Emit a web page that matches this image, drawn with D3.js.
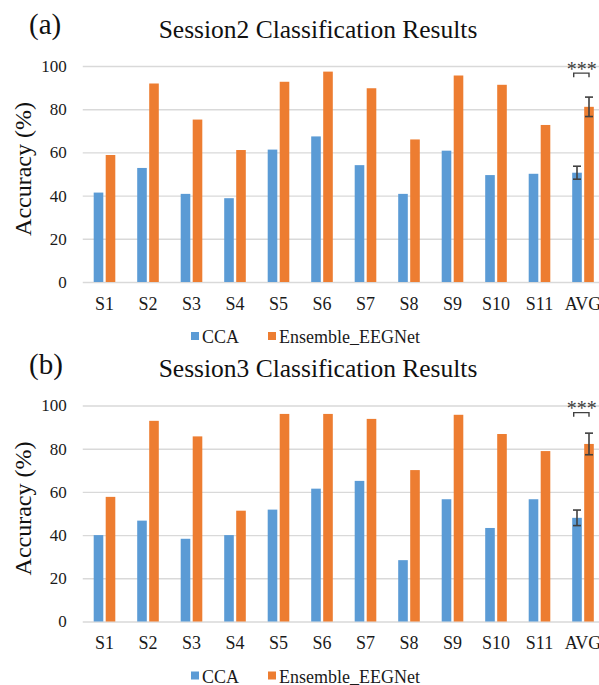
<!DOCTYPE html>
<html>
<head>
<meta charset="utf-8">
<script src="https://cdn.jsdelivr.net/npm/d3@7"></script>
<style>
  body { margin: 0; background: #fff; }
  svg { display: block; font-family: "Liberation Serif", "Times New Roman", serif; }
</style>
</head>
<body>
<svg id="chart" width="599" height="685"></svg>
<script>
const subjects = ["S1", "S2", "S3", "S4", "S5", "S6", "S7", "S8", "S9", "S10", "S11", "AVG"];
const series = ["CCA", "Ensemble_EEGNet"];
const colors = ["#5b9bd5", "#ed7d31"];
const yTicks = [0, 20, 40, 60, 80, 100];

// Session 2
const s2CCA = [41.4, 52.8, 40.8, 38.8, 61.3, 67.4, 54.1, 40.8, 60.8, 49.5, 50.1, 50.6];
const s2Ens = [58.8, 91.9, 75.2, 61.1, 92.7, 97.4, 89.7, 66.0, 95.6, 91.3, 72.7, 81.1];
const s2Err = [3.0, 4.5];

// Session 3
const s3CCA = [40.0, 46.7, 38.3, 40.0, 51.8, 61.5, 65.1, 28.4, 56.6, 43.3, 56.6, 48.0];
const s3Ens = [57.7, 92.9, 85.7, 51.3, 96.1, 96.1, 93.8, 70.1, 95.7, 86.8, 78.9, 82.2];
const s3Err = [3.6, 5.0];

const svg = d3.select("#chart");

const x0 = d3.scaleBand().domain(subjects).range([82.75, 604.75]).padding(0);
const x1 = d3.scaleBand().domain(series).range([0, 21.6]).paddingInner(0.2);
const pairOffset = x0.bandwidth() / 2 - 10.8;

function drawPanel(tag, title, cca, ens, err, dy) {
    const g = svg.append("g").attr("transform", `translate(0, ${dy})`);
    const y = d3.scaleLinear().domain([0, 100]).range([282, 66]);

    // gridlines + y labels
    const yAxis = g.append("g")
        .attr("transform", `translate(${x0.range()[0]}, 0)`)
        .call(d3.axisLeft(y).tickValues(yTicks).tickSize(-(x0.range()[1] - x0.range()[0])).tickPadding(16));
    yAxis.select(".domain").remove();
    yAxis.selectAll("line").attr("stroke", "#d9d9d9").attr("stroke-width", 1.4);
    yAxis.selectAll("text").attr("fill", "#1a1a1a").style("font-size", "17px")
        .style("font-family", "'Liberation Serif', serif");

    // x labels
    const xAxis = g.append("g")
        .attr("transform", `translate(0, ${y(0)})`)
        .call(d3.axisBottom(x0).tickSize(0).tickPadding(15));
    xAxis.select(".domain").remove();
    xAxis.selectAll("text").attr("fill", "#1a1a1a").style("font-size", "18px")
        .style("font-family", "'Liberation Serif', serif");

    // bars
    const rows = subjects.map((s, i) => ({ s, vals: [cca[i], ens[i]] }));
    g.append("g").selectAll("g")
        .data(rows)
        .join("g")
        .attr("transform", d => `translate(${x0(d.s) + pairOffset}, 0)`)
        .selectAll("rect")
        .data(d => d.vals.map((v, k) => ({ k, v })))
        .join("rect")
        .attr("x", d => x1(series[d.k]))
        .attr("y", d => y(d.v))
        .attr("width", x1.bandwidth())
        .attr("height", d => y(0) - y(d.v))
        .attr("fill", d => colors[d.k]);

    // error bars on AVG
    const avg = subjects[subjects.length - 1];
    const avgVals = [cca[cca.length - 1], ens[ens.length - 1]];
    const eg = g.append("g").attr("stroke", "#404040").attr("stroke-width", 1.6).attr("fill", "none");
    avgVals.forEach((v, k) => {
        const cx = x0(avg) + pairOffset + x1(series[k]) + x1.bandwidth() / 2;
        eg.append("line").attr("x1", cx).attr("x2", cx).attr("y1", y(v + err[k])).attr("y2", y(v - err[k]));
        eg.append("line").attr("x1", cx - 4).attr("x2", cx + 4).attr("y1", y(v + err[k])).attr("y2", y(v + err[k]));
        eg.append("line").attr("x1", cx - 4).attr("x2", cx + 4).attr("y1", y(v - err[k])).attr("y2", y(v - err[k]));
    });

    // significance bracket
    const bx1 = x0(avg) + pairOffset + x1(series[0]) + 1.5;
    const bx2 = x0(avg) + pairOffset + x1(series[1]) + x1.bandwidth() / 2;
    const by = y(96.7);
    g.append("path")
        .attr("d", `M${bx1},${by + 4}V${by}H${bx2}V${by + 4}`)
        .attr("fill", "none").attr("stroke", "#404040").attr("stroke-width", 1.4);
    g.append("text")
        .attr("x", (bx1 + bx2) / 2 + 0.5).attr("y", by + 2.5)
        .attr("text-anchor", "middle")
        .attr("fill", "#404040")
        .style("font-size", "20px")
        .text("***");

    // titles
    g.append("text").attr("x", 29).attr("y", 34)
        .attr("fill", "#111").style("font-size", "29px").text(tag);
    g.append("text").attr("x", 318).attr("y", 37.5)
        .attr("text-anchor", "middle").attr("fill", "#111")
        .style("font-size", "25.5px").text(title);

    // y title
    g.append("text")
        .attr("transform", `translate(31, ${(y(0) + y(100)) / 2 - 5}) rotate(-90)`)
        .attr("text-anchor", "middle").attr("fill", "#111")
        .style("font-size", "24px").text("Accuracy (%)");

    // legend
    const lg = g.append("g").attr("transform", `translate(0, 343)`);
    const lx = [191, 268];
    series.forEach((s, k) => {
        lg.append("rect").attr("x", lx[k]).attr("y", -11).attr("width", 8).attr("height", 8).attr("fill", colors[k]);
        lg.append("text").attr("x", lx[k] + 11).attr("y", 0)
            .attr("fill", "#1a1a1a").style("font-size", "18px").text(s);
    });
}

drawPanel("(a)", "Session2 Classification Results", s2CCA, s2Ens, s2Err, 0);
drawPanel("(b)", "Session3 Classification Results", s3CCA, s3Ens, s3Err, 339.5);
</script>
</body>
</html>
